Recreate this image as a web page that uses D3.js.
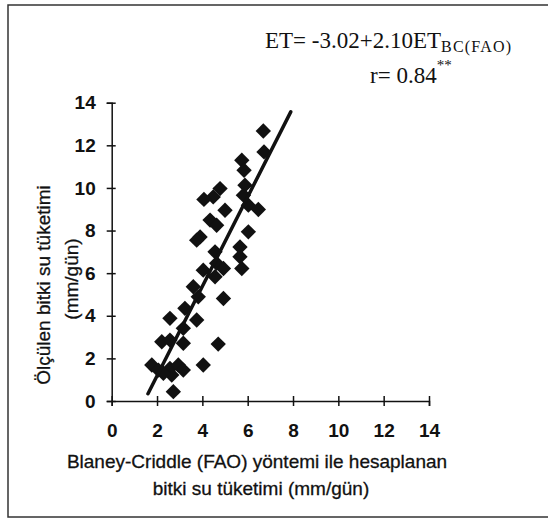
<!DOCTYPE html>
<html>
<head>
<meta charset="utf-8">
<script src="https://cdn.jsdelivr.net/npm/d3@7"></script>
<style>
  body { margin: 0; background: #fff; }
  svg { display: block; }
  .tick-label { font-family: "Liberation Sans", Arial, sans-serif; font-size: 19px; font-weight: bold; fill: #111; }
  .title { font-family: "Liberation Sans", Arial, sans-serif; font-size: 19px; fill: #111; stroke: #111; stroke-width: 0.3; }
  .eq { font-family: "Liberation Serif", "Times New Roman", serif; fill: #111; }
  .axis-line { stroke: #111; stroke-width: 1.5; fill: none; }
</style>
</head>
<body>
<svg width="548" height="519"></svg>
<script>
// measured vs Blaney-Criddle (FAO) values, mm/day
var bcValues = [6.69, 6.72, 5.74, 5.84, 5.88, 5.81, 4.78, 4.48, 4.07, 5.00,
                6.03, 6.47, 4.34, 4.63, 3.90, 3.75, 6.03, 5.66, 5.66, 5.74,
                4.56, 4.63, 4.93, 4.56, 4.04, 3.60, 3.82, 4.93, 3.23, 3.75,
                2.57, 3.16, 2.21, 2.57, 3.16, 4.70, 1.77, 2.06, 2.57, 2.94,
                3.16, 2.65, 4.04, 2.72, 2.28];
var etValues = [12.67, 11.69, 11.30, 10.83, 10.13, 9.66, 9.97, 9.58, 9.46, 8.95,
                9.19, 8.99, 8.49, 8.25, 7.70, 7.55, 7.94, 7.23, 6.77, 6.22,
                7.00, 6.46, 6.22, 5.83, 6.14, 5.36, 4.89, 4.81, 4.35, 3.80,
                3.88, 3.41, 2.78, 2.86, 2.71, 2.67, 1.69, 1.45, 1.53, 1.69,
                1.45, 1.22, 1.69, 0.44, 1.30];
var tickValues = [0, 2, 4, 6, 8, 10, 12, 14];
var fitIntercept = -3.02, fitSlope = 2.10;
var fitRange = [1.6, 7.9];

var svg = d3.select("svg");

var points = bcValues.map(function(v, i) { return {x: v, y: etValues[i]}; });

var scaleX = d3.scaleLinear().domain([0, 14]).range([111.7, 429]);
var scaleY = d3.scaleLinear().domain([0, 14]).range([401, 102.7]);

// frame
svg.append("rect")
    .attr("x", 8).attr("y", 5)
    .attr("width", 620).attr("height", 512)
    .attr("fill", "none")
    .attr("stroke", "#333")
    .attr("stroke-width", 1.5);

// x axis
var gx = svg.append("g")
    .attr("transform", "translate(0," + scaleY(0) + ")")
    .call(d3.axisBottom(scaleX).tickValues(tickValues).tickSizeOuter(0).tickSize(5).tickPadding(18));
gx.select(".domain").attr("class", "axis-line");
gx.selectAll(".tick line").attr("y1", -5).attr("stroke", "#111").attr("stroke-width", 1.5);
gx.selectAll(".tick text").attr("class", "tick-label");

// y axis
var gy = svg.append("g")
    .attr("transform", "translate(" + scaleX(0) + ",0)")
    .call(d3.axisLeft(scaleY).tickValues(tickValues).tickSizeOuter(0).tickSize(5).tickPadding(11));
gy.select(".domain").attr("class", "axis-line");
gy.selectAll(".tick line").attr("x1", 4).attr("stroke", "#111").attr("stroke-width", 1.5);
gy.selectAll(".tick text").attr("class", "tick-label");
svg.selectAll("g").attr("font-family", null).attr("font-size", null);

// points
svg.append("g").selectAll("path")
    .data(points)
    .enter().append("path")
    .attr("d", d3.symbol().type(d3.symbolSquare).size(118))
    .attr("transform", function(d) { return "translate(" + scaleX(d.x) + "," + scaleY(d.y) + ") rotate(45)"; })
    .attr("fill", "#111");

// regression line
var fitLine = d3.line()
    .x(function(d) { return scaleX(d); })
    .y(function(d) { return scaleY(fitIntercept + fitSlope * d); });
svg.append("path")
    .attr("d", fitLine(fitRange))
    .attr("stroke", "#111")
    .attr("stroke-width", 3.5)
    .attr("stroke-linecap", "round")
    .attr("fill", "none");

// axis titles
var xt = svg.append("text").attr("class", "title").attr("text-anchor", "middle");
xt.append("tspan").attr("x", 257).attr("y", 468).text("Blaney-Criddle (FAO) yöntemi ile hesaplanan");
xt.append("tspan").attr("x", 261).attr("y", 495).text("bitki su tüketimi (mm/gün)");

var yt = svg.append("text").attr("class", "title").attr("text-anchor", "middle")
    .attr("transform", "rotate(-90)");
yt.append("tspan").attr("x", -285).attr("y", 50).text("Ölçülen bitki su tüketimi");
yt.append("tspan").attr("x", -279).attr("y", 78).text("(mm/gün)");

// equation
var eq = svg.append("text").attr("class", "eq").attr("x", 265).attr("y", 48).attr("font-size", 23);
eq.append("tspan").text("ET= -3.02+2.10ET");
eq.append("tspan").attr("font-size", 16).attr("dy", 4).attr("letter-spacing", 1.2).text("BC(FAO)");

var rt = svg.append("text").attr("class", "eq").attr("x", 370).attr("y", 83).attr("font-size", 23);
rt.append("tspan").text("r= 0.84");
rt.append("tspan").attr("font-size", 15).attr("dy", -13).text("**");
</script>
</body>
</html>
